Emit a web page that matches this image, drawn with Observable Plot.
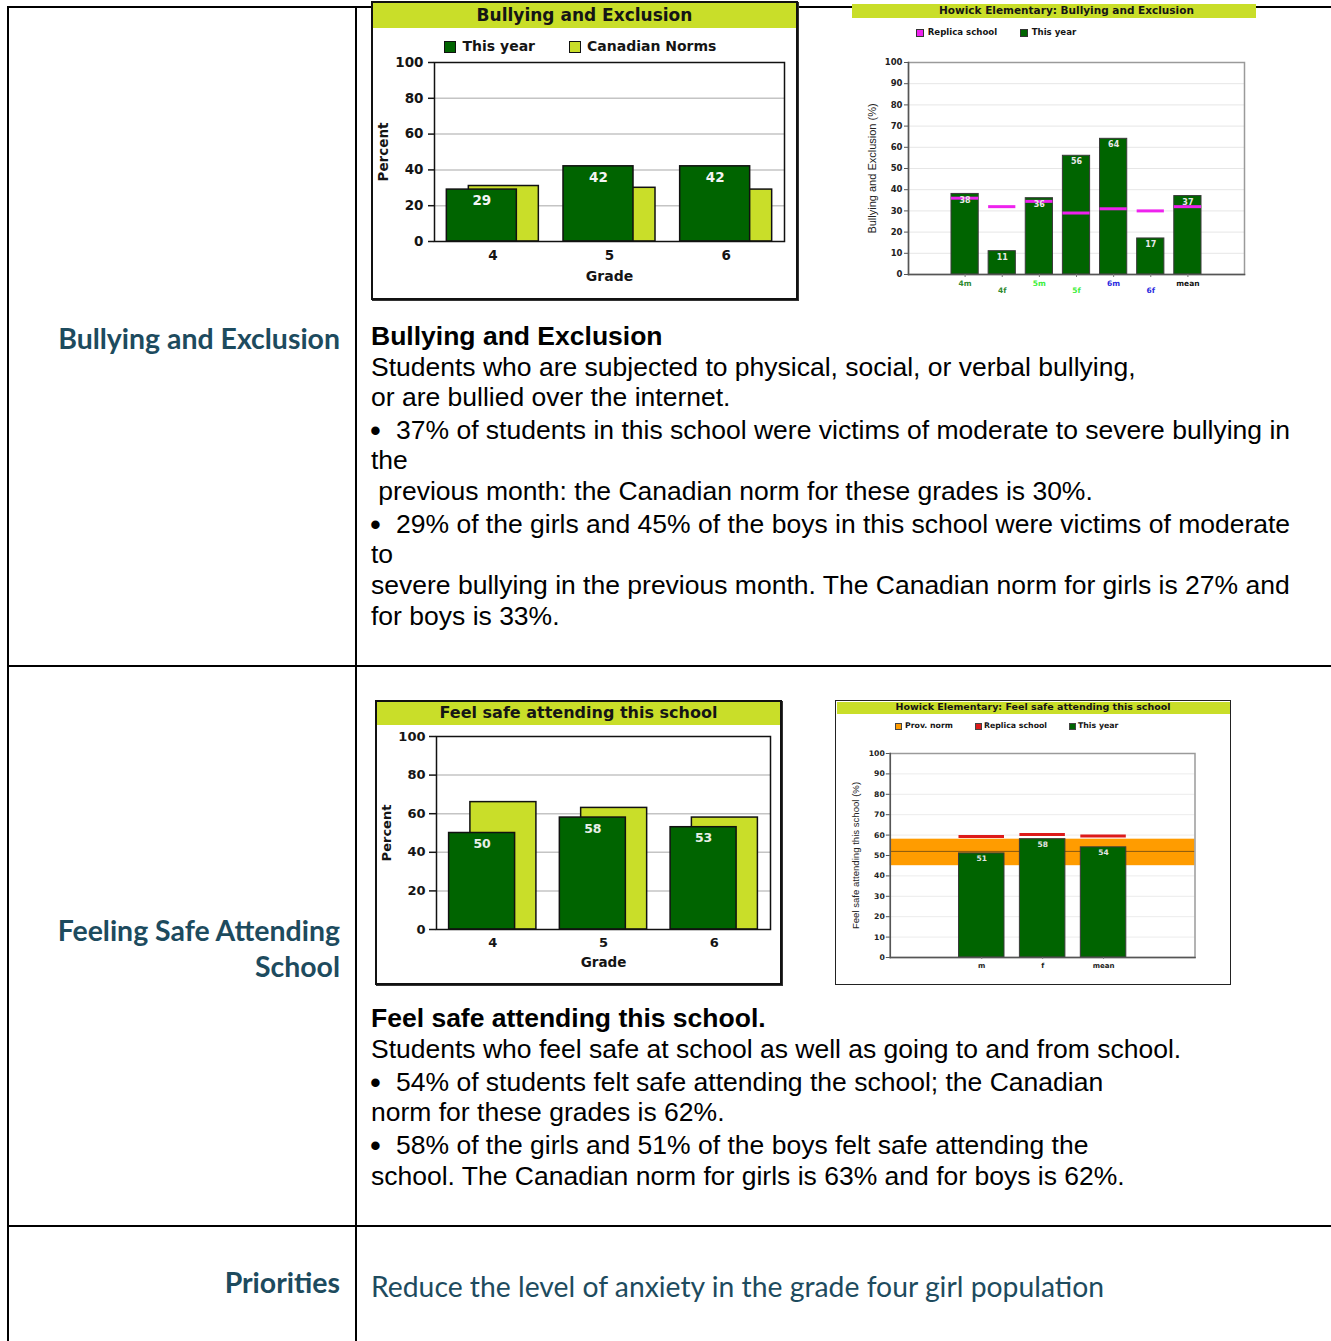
<!DOCTYPE html>
<html>
<head>
<meta charset="utf-8">
<title>Howick Elementary – Bullying and Exclusion, Feeling Safe</title>
<script src="https://cdn.jsdelivr.net/npm/d3@7"></script>
<script src="https://cdn.jsdelivr.net/npm/@observablehq/plot@0.6"></script>
<style>
  html, body { margin: 0; padding: 0; background: #fff; }
  body { position: relative; width: 1331px; height: 1341px; overflow: hidden; }
  .ln { position: absolute; background: #000; }
  .txt { position: absolute; font-family: "Liberation Sans", Arial, sans-serif; font-size: 26.5px; line-height: 30px; height: 30px; white-space: pre; color: #000; }
  .teal { position: absolute; font-family: Lato, sans-serif; color: #1d4b5e; white-space: nowrap; line-height: 36px; height: 36px; }
  .cf { position: absolute; font-family: "DejaVu Sans", sans-serif; font-weight: bold; color: #151515; white-space: nowrap; }
  .sq { position: absolute; box-sizing: border-box; }
  svg { overflow: visible; }
</style>
</head>
<body>
<script>
// ---------------- DATA ----------------
// Chart 1: Bullying and Exclusion, by grade
const grades = ["4", "5", "6"];
const bullyThisYear = [29, 42, 42];
const bullyCanadianNorms = [31, 30, 29];

// Chart 2: Howick Elementary: Bullying and Exclusion
const howickCategories = ["4m", "4f", "5m", "5f", "6m", "6f", "mean"];
const howickBullyThisYear = [38, 11, 36, 56, 64, 17, 37];
const howickBullyReplica = [36, 32, 34.5, 29, 31, 30, 32];

// Chart 3: Feel safe attending this school, by grade
const safeThisYear = [50, 58, 53];
const safeCanadianNorms = [66, 63, 58];

// Chart 4: Howick Elementary: Feel safe attending this school
const safeCategories = ["m", "f", "mean"];
const safeHowickThisYear = [51, 58, 54];
const safeHowickReplica = [59.3, 60.3, 59.6];
const safeProvNormRange = [45, 58];
const safeProvNormMean = [52];

const yTicks20 = [0, 20, 40, 60, 80, 100];
const yTicks10 = [0, 10, 20, 30, 40, 50, 60, 70, 80, 90, 100];

// ---------------- COLOURS ----------------
const GREEN = "#006400", YG = "#c9de29", MAGENTA = "#ee22ee", RED = "#dd1a1a", ORANGE = "#ff9c00";

// ---------------- HELPERS ----------------
function add(tag, cls, css, text) {
  const e = document.createElement(tag);
  if (cls) e.className = cls;
  Object.assign(e.style, css);
  if (text != null) e.textContent = text;
  document.body.appendChild(e);
  return e;
}
const px = v => v + "px";
function hline(x1, x2, y) { add("div", "ln", {left: px(x1), top: px(y), width: px(x2 - x1), height: "2px"}); }
function vline(x, y1, y2) { add("div", "ln", {left: px(x), top: px(y1), width: "2px", height: px(y2 - y1)}); }
function textLine(str, x, yc, bold) {
  return add("div", "txt", {left: px(x), top: px(yc - 15.5), fontWeight: bold ? "bold" : "normal"}, str);
}
function bullet(x, yc) {
  return add("div", "txt", {left: px(x), top: px(yc - 14), fontSize: "31px"}, "\u2022");
}
function mount(svg, left, top) {
  svg.style.position = "absolute";
  svg.style.left = px(left);
  svg.style.top = px(top);
  svg.style.zIndex = 2;
  document.body.appendChild(svg);
}
function box(left, top, w, h, border, shadow) {
  add("div", "", {position: "absolute", left: px(left), top: px(top), width: px(w), height: px(h),
    boxSizing: "border-box", border: border, background: "#fff", boxShadow: shadow || "none", zIndex: 1});
}
function band(left, top, w, h) {
  add("div", "", {position: "absolute", left: px(left), top: px(top), width: px(w), height: px(h), background: YG, zIndex: 3});
}
function ctext(str, left, yc, size, opts = {}) {
  return add("div", "cf", Object.assign({left: px(left), top: px(yc - size * 0.6), fontSize: px(size), lineHeight: px(size * 1.2), zIndex: 4}, opts), str);
}
function square(left, top, s, fill, stroke) {
  add("div", "sq", {left: px(left), top: px(top), width: px(s), height: px(s), background: fill, border: `1px solid ${stroke}`, zIndex: 4});
}

// ---------------- TABLE LINES ----------------
hline(7, 1331, 6);
hline(7, 1331, 665);
hline(7, 1331, 1225);
vline(7, 6, 1341);
vline(355, 6, 1341);

// ---------------- LEFT COLUMN LABELS ----------------
const lab1 = add("div", "teal", {right: px(1331 - 340), top: px(338 - 18), fontWeight: 700, fontSize: "27px"}, "Bullying and Exclusion");
const lab2 = add("div", "teal", {right: px(1331 - 340), top: px(930 - 18), fontWeight: 700, fontSize: "27px"}, "Feeling Safe Attending");
const lab3 = add("div", "teal", {right: px(1331 - 340), top: px(966 - 18), fontWeight: 700, fontSize: "27px"}, "School");
const lab4 = add("div", "teal", {right: px(1331 - 340), top: px(1282 - 18), fontWeight: 700, fontSize: "27px"}, "Priorities");
const prio = add("div", "teal", {left: "371px", top: px(1286 - 18), fontWeight: 400, fontSize: "27px"}, "Reduce the level of anxiety in the grade four girl population");
function fitAll() {
  const cur1 = parseFloat(lab1.style.fontSize);
  const cur2 = parseFloat(lab2.style.fontSize);
  const s1 = cur1 * 279 / lab1.getBoundingClientRect().width;
  const s2 = cur2 * 285 / lab2.getBoundingClientRect().width;
  const s = (s1 + s2) / 2;
  [lab1, lab2, lab3, lab4].forEach(e => e.style.fontSize = px(s));
  const cp = parseFloat(prio.style.fontSize);
  prio.style.fontSize = px(cp * 733 / prio.getBoundingClientRect().width);
}
fitAll();
if (document.fonts && document.fonts.ready) document.fonts.ready.then(fitAll);

// ---------------- BODY TEXT ----------------
textLine("Bullying and Exclusion", 371, 336, true);
textLine("Students who are subjected to physical, social, or verbal bullying,", 371, 367);
textLine("or are bullied over the internet.", 371, 397);
bullet(370, 430);
textLine("37% of students in this school were victims of moderate to severe bullying in", 396, 430);
textLine("the", 371, 460);
textLine(" previous month: the Canadian norm for these grades is 30%.", 371, 491);
bullet(370, 524);
textLine("29% of the girls and 45% of the boys in this school were victims of moderate", 396, 524);
textLine("to", 371, 554);
textLine("severe bullying in the previous month. The Canadian norm for girls is 27% and", 371, 585);
textLine("for boys is 33%.", 371, 616);

textLine("Feel safe attending this school.", 371, 1018, true);
textLine("Students who feel safe at school as well as going to and from school.", 371, 1049);
bullet(370, 1082);
textLine("54% of students felt safe attending the school; the Canadian", 396, 1082);
textLine("norm for these grades is 62%.", 371, 1112);
bullet(370, 1145);
textLine("58% of the girls and 51% of the boys felt safe attending the", 396, 1145);
textLine("school. The Canadian norm for girls is 63% and for boys is 62%.", 371, 1176);

// ---------------- CHART 1 ----------------
box(371, 1, 427, 299, "2px solid #111", "1px 1px 0 #333");
band(373, 3, 423, 24.5);
ctext("Bullying and Exclusion", 373, 15, 17, {width: "423px", textAlign: "center"});
square(444, 40.5, 12, GREEN, "#111");
ctext("This year", 462.5, 46.5, 14);
square(569, 40.5, 12, YG, "#111");
ctext("Canadian Norms", 587, 46.5, 14);

const c1 = grades.map((g, i) => ({grade: g, thisYear: bullyThisYear[i], norm: bullyCanadianNorms[i]}));
mount(Plot.plot({
  width: 423, height: 270,
  marginLeft: 61, marginRight: 12, marginTop: 34, marginBottom: 57,
  style: {fontFamily: "DejaVu Sans", fontWeight: "bold", fontSize: "13.5px", color: "#151515", background: "transparent"},
  x: {type: "band", domain: grades, paddingInner: 0.4, paddingOuter: 0.2, round: false},
  y: {domain: [0, 100]},
  marks: [
    Plot.gridY([20, 40, 60, 80], {stroke: "#c4c4c4", strokeOpacity: 1, strokeWidth: 1.5}),
    Plot.barY(c1, {x: "grade", y: "norm", fill: YG, stroke: "#111", strokeWidth: 1.5, dx: 11}),
    Plot.barY(c1, {x: "grade", y: "thisYear", fill: GREEN, stroke: "#111", strokeWidth: 1.5, dx: -11}),
    Plot.text(c1, {x: "grade", y: "thisYear", text: d => String(d.thisYear), dx: -11, dy: 11, fill: "#f4f4f4", fontSize: 13.5}),
    Plot.frame({stroke: "#111", strokeWidth: 1.5}),
    Plot.axisY({ticks: yTicks20, tickSize: 6, tickPadding: 5, label: null, strokeWidth: 1.5}),
    Plot.axisX({tickSize: 0, tickPadding: 9, label: null}),
    Plot.text(["Percent"], {text: d => d, frameAnchor: "left", textAnchor: "middle", lineAnchor: "middle", rotate: -90, dx: -50.5, fontSize: 13.5}),
    Plot.text(["Grade"], {text: d => d, frameAnchor: "bottom", lineAnchor: "middle", dy: 35, fontSize: 14})
  ]
}), 373, 28);

// ---------------- CHART 2 ----------------
band(851.5, 3.5, 404, 14);
ctext("Howick Elementary: Bullying and Exclusion", 939, 10.5, 10.5);
square(916, 28.5, 8, MAGENTA, "#333");
ctext("Replica school", 927.7, 32, 8.6);
square(1020, 28.5, 8, GREEN, "#333");
ctext("This year", 1031.7, 32, 8.6);

const c2 = howickCategories.map((c, i) => ({cat: c, value: howickBullyThisYear[i], replica: howickBullyReplica[i]}));
const catGroup = d => d.cat === "mean" ? "mean" : d.cat[0];
mount(Plot.plot({
  width: 406, height: 282,
  marginLeft: 57, marginRight: 13, marginTop: 44, marginBottom: 26,
  style: {fontFamily: "DejaVu Sans", fontWeight: "bold", fontSize: "8.5px", color: "#222", background: "transparent"},
  x: {type: "band", domain: howickCategories, paddingInner: 0.267, paddingOuter: 1.158, round: false},
  y: {domain: [0, 100]},
  color: {type: "ordinal", domain: ["4", "5", "6", "mean"], range: ["#2f8a2f", "#3cee3c", "#2a2ae0", "#111111"]},
  marks: [
    Plot.gridY(yTicks10.slice(1, -1), {stroke: "#e6e6e6", strokeOpacity: 1}),
    Plot.frame({stroke: "#9a9a9a", strokeWidth: 1.5}),
    Plot.barY(c2, {x: "cat", y: "value", fill: GREEN, stroke: "#3a3a3a", strokeWidth: 1}),
    Plot.tickY(c2, {x: "cat", y: "replica", stroke: MAGENTA, strokeWidth: 3}),
    Plot.text(c2, {x: "cat", y: "value", text: d => String(d.value), dy: 6, fill: "#e8e8e8", fontSize: 8}),
    Plot.frame({anchor: "left", stroke: "#555", strokeWidth: 1.5}),
    Plot.frame({anchor: "bottom", stroke: "#555", strokeWidth: 1.5}),
    Plot.axisY({ticks: yTicks10, tickSize: 4, tickPadding: 2, label: null, stroke: "#555"}),
    Plot.axisX({tickSize: 3, tickFormat: () => "", label: null, stroke: "#777"}),
    Plot.text(c2.filter((d, i) => i % 2 === 0), {x: "cat", text: "cat", frameAnchor: "bottom", lineAnchor: "middle", dy: 9, fill: catGroup, fontSize: 7.5}),
    Plot.text(c2.filter((d, i) => i % 2 === 1), {x: "cat", text: "cat", frameAnchor: "bottom", lineAnchor: "middle", dy: 16.4, fill: catGroup, fontSize: 7.5}),
    Plot.text(["Bullying and Exclusion (%)"], {text: d => d, frameAnchor: "left", textAnchor: "middle", lineAnchor: "middle", rotate: -90, dx: -36, fontSize: 11, fontWeight: "normal", fontFamily: "Liberation Sans, Arial"})
  ]
}), 851, 18);

// ---------------- CHART 3 ----------------
box(375, 700, 407, 285, "2px solid #111", "1px 1px 0 #333");
band(377, 702, 403, 23);
ctext("Feel safe attending this school", 377, 713, 16, {width: "403px", textAlign: "center"});

const c3 = grades.map((g, i) => ({grade: g, thisYear: safeThisYear[i], norm: safeCanadianNorms[i]}));
mount(Plot.plot({
  width: 403, height: 257,
  marginLeft: 59, marginRight: 10, marginTop: 10, marginBottom: 54,
  style: {fontFamily: "DejaVu Sans", fontWeight: "bold", fontSize: "13px", color: "#151515", background: "transparent"},
  x: {type: "band", domain: grades, paddingInner: 0.404, paddingOuter: 0.21, round: false},
  y: {domain: [0, 100]},
  marks: [
    Plot.gridY([20, 40, 60, 80], {stroke: "#c4c4c4", strokeOpacity: 1, strokeWidth: 1.5}),
    Plot.barY(c3, {x: "grade", y: "norm", fill: YG, stroke: "#111", strokeWidth: 1.5, dx: 10.65}),
    Plot.barY(c3, {x: "grade", y: "thisYear", fill: GREEN, stroke: "#111", strokeWidth: 1.5, dx: -10.65}),
    Plot.text(c3, {x: "grade", y: "thisYear", text: d => String(d.thisYear), dx: -10.65, dy: 11, fill: "#e8efe8", fontSize: 12.5}),
    Plot.frame({stroke: "#111", strokeWidth: 1.5}),
    Plot.axisY({ticks: yTicks20, tickSize: 7, tickPadding: 4, label: null, strokeWidth: 1.5}),
    Plot.axisX({tickSize: 0, tickPadding: 8, label: null}),
    Plot.text(["Percent"], {text: d => d, frameAnchor: "left", textAnchor: "middle", lineAnchor: "middle", rotate: -90, dx: -49.5, fontSize: 13}),
    Plot.text(["Grade"], {text: d => d, frameAnchor: "bottom", lineAnchor: "middle", dy: 33, fontSize: 13.5})
  ]
}), 377, 726);

// ---------------- CHART 4 ----------------
box(835, 700, 396, 285, "1.5px solid #222");
band(836.5, 701.5, 393, 12);
ctext("Howick Elementary: Feel safe attending this school", 836.5, 707, 9.5, {width: "393px", textAlign: "center"});
square(895, 723, 6.5, ORANGE, "#444");
ctext("Prov. norm", 905, 726, 7.8);
square(975, 723, 6.5, RED, "#444");
ctext("Replica school", 984, 726, 7.8);
square(1069, 723, 6.5, GREEN, "#444");
ctext("This year", 1078, 726, 7.8);

const c4 = safeCategories.map((c, i) => ({cat: c, value: safeHowickThisYear[i], replica: safeHowickReplica[i]}));
mount(Plot.plot({
  width: 393, height: 270,
  marginLeft: 52.8, marginRight: 35.5, marginTop: 39, marginBottom: 27,
  style: {fontFamily: "DejaVu Sans", fontWeight: "bold", fontSize: "7.7px", color: "#222", background: "transparent"},
  x: {type: "band", domain: safeCategories, paddingInner: 0.253, paddingOuter: 1.128, round: false},
  y: {domain: [0, 100]},
  marks: [
    Plot.gridY(yTicks10.slice(1, -1), {stroke: "#ececec", strokeOpacity: 1}),
    Plot.rect([safeProvNormRange], {y1: d => d[0], y2: d => d[1], fill: ORANGE}),
    Plot.ruleY(safeProvNormMean, {stroke: "#8a5a10", strokeWidth: 1}),
    Plot.frame({stroke: "#9a9a9a", strokeWidth: 1.5}),
    Plot.barY(c4, {x: "cat", y: "value", fill: GREEN, stroke: "#3a3a3a", strokeWidth: 1}),
    Plot.tickY(c4, {x: "cat", y: "replica", stroke: RED, strokeWidth: 3}),
    Plot.text(c4, {x: "cat", y: "value", text: d => String(d.value), dy: 5.5, fill: "#e4e4e4", fontSize: 7.5}),
    Plot.frame({anchor: "left", stroke: "#555", strokeWidth: 1.5}),
    Plot.frame({anchor: "bottom", stroke: "#555", strokeWidth: 1.5}),
    Plot.axisY({ticks: yTicks10, tickSize: 4, tickPadding: 1.5, label: null, stroke: "#555"}),
    Plot.axisX({tickSize: 2, tickPadding: 4, label: null, stroke: "#777", fontSize: 7}),
    Plot.text(["Feel safe attending this school (%)"], {text: d => d, frameAnchor: "left", textAnchor: "middle", lineAnchor: "middle", rotate: -90, dx: -34, fontSize: 9.6, fontWeight: "normal", fontFamily: "Liberation Sans, Arial"})
  ]
}), 836.5, 714);
</script>
</body>
</html>
